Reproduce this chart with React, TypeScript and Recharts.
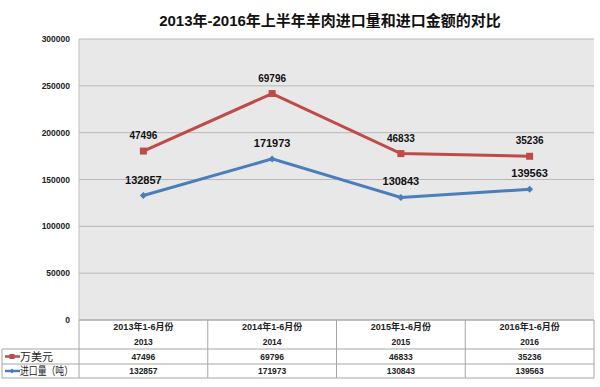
import React from 'react';
import {
  ComposedChart,
  Area,
  XAxis,
  YAxis,
  CartesianGrid,
  LabelList,
} from 'recharts';

const periods = ['2013年1-6月份', '2014年1-6月份', '2015年1-6月份', '2016年1-6月份'];
const years = ['2013', '2014', '2015', '2016'];
const amount = [47496, 69796, 46833, 35236]; // 万美元
const volume = [132857, 171973, 130843, 139563]; // 进口量（吨）
const yTicks = [0, 50000, 100000, 150000, 200000, 250000, 300000];

const data = years.map((y, i) => ({
  year: y,
  period: periods[i],
  amount: amount[i],
  volume: volume[i],
}));

const W = 600;
const H = 387;
const LEFT = 79;
const RIGHT = 6;
const TOP = 39;
const AXIS_H = 67;
const COL_W = (W - LEFT - RIGHT) / years.length;
const RED = '#be4b48';
const BLUE = '#4a7ebb';
const BORDER = '#a6a6a6';
const FONT = '"Liberation Sans", "Noto Sans CJK SC", sans-serif';

// red square marker
function SquareDot({ cx, cy }: any) {
  if (cx == null || cy == null) return null;
  return <rect x={cx - 3.5} y={cy - 3.5} width={7} height={7} fill={RED} />;
}

// blue diamond marker
function DiamondDot({ cx, cy }: any) {
  if (cx == null || cy == null) return null;
  return (
    <path d={`M${cx},${cy - 3.5} L${cx + 3.5},${cy} L${cx},${cy + 3.5} L${cx - 3.5},${cy} Z`} fill={BLUE} />
  );
}

// data table underneath the chart, one column per category tick
function TableTick({ x, y, payload, index }: any) {
  const top = y;
  const r1 = top + 29;
  const r2 = top + 44;
  const r3 = top + 58;
  const l = x - COL_W / 2;
  const r = x + COL_W / 2;
  const i = index;
  const txt = { fontFamily: FONT, fontSize: 8.5, fontWeight: 700, fill: '#222', textAnchor: 'middle' as const };
  return (
    <g>
      <line x1={r} y1={top} x2={r} y2={r3} stroke={BORDER} />
      <line x1={l} y1={r1} x2={r} y2={r1} stroke={BORDER} />
      <line x1={l} y1={r2} x2={r} y2={r2} stroke={BORDER} />
      <line x1={l} y1={r3} x2={r} y2={r3} stroke={BORDER} />
      <text x={x} y={top + 10} {...txt} fontSize={9}>{data[i].period}</text>
      <text x={x} y={top + 25} {...txt}>{payload.value}</text>
      <text x={x} y={top + 40} {...txt}>{data[i].amount}</text>
      <text x={x} y={top + 54} {...txt}>{data[i].volume}</text>
      {i === 0 && (
        <g>
          <line x1={l} y1={top} x2={l} y2={r3} stroke={BORDER} />
          <line x1={2} y1={r1} x2={l} y2={r1} stroke={BORDER} />
          <line x1={2} y1={r2} x2={l} y2={r2} stroke={BORDER} />
          <line x1={2} y1={r3} x2={l} y2={r3} stroke={BORDER} />
          <line x1={2} y1={r1} x2={2} y2={r3} stroke={BORDER} />
          <line x1={5} y1={r1 + 7.5} x2={20} y2={r1 + 7.5} stroke={RED} strokeWidth={2.5} />
          <rect x={9.5} y={r1 + 5} width={5} height={5} fill={RED} />
          <text x={20} y={r1 + 11.5} fontFamily={FONT} fontSize={11} fill="#222">万美元</text>
          <line x1={5} y1={r2 + 7} x2={20} y2={r2 + 7} stroke={BLUE} strokeWidth={2.5} />
          <path d={`M12,${r2 + 4.5} L14.5,${r2 + 7} L12,${r2 + 9.5} L9.5,${r2 + 7} Z`} fill={BLUE} />
          <text x={20} y={r2 + 11} fontFamily={FONT} fontSize={11} fill="#222" textLength={53} lengthAdjust="spacingAndGlyphs">
            进口量（吨）
          </text>
        </g>
      )}
    </g>
  );
}

export default function App() {
  return (
    <div style={{ position: 'absolute', left: 0, top: 0, width: W, height: H, background: '#fff' }}>
      <div
        style={{
          position: 'absolute',
          top: 9,
          left: 0,
          width: W,
          paddingLeft: 60,
          boxSizing: 'border-box',
          textAlign: 'center',
          fontFamily: FONT,
          fontSize: 15,
          fontWeight: 700,
          color: '#111',
        }}
      >
        2013年-2016年上半年羊肉进口量和进口金额的对比
      </div>
      <ComposedChart width={W} height={H} data={data} margin={{ top: TOP, right: RIGHT, left: 0, bottom: 0 }}>
        <CartesianGrid fill="#e8e8e8" stroke="#b8b8b8" vertical={false} />
        <XAxis
          dataKey="year"
          height={AXIS_H}
          padding={{ left: COL_W / 2, right: COL_W / 2 }}
          axisLine={{ stroke: BORDER }}
          tickLine={false}
          tickSize={0}
          tickMargin={0}
          interval={0}
          tick={<TableTick />}
        />
        <YAxis
          width={LEFT}
          domain={[0, 300000]}
          ticks={yTicks}
          axisLine={{ stroke: '#c0c0c0' }}
          tickLine={false}
          tickSize={0}
          tickMargin={9}
          tick={{ fontFamily: FONT, fontSize: 8.5, fontWeight: 700, fill: '#222' }}
        />
        <Area
          type="linear"
          dataKey="volume"
          stackId="s"
          stroke={BLUE}
          strokeWidth={3}
          fill="none"
          fillOpacity={0}
          dot={<DiamondDot />}
          activeDot={false}
          isAnimationActive={false}
        >
          <LabelList dataKey="volume" position="top" offset={12} fontFamily={FONT} fontSize={11} fontWeight={700} fill="#111" />
        </Area>
        <Area
          type="linear"
          dataKey="amount"
          stackId="s"
          stroke={RED}
          strokeWidth={3}
          fill="none"
          fillOpacity={0}
          dot={<SquareDot />}
          activeDot={false}
          isAnimationActive={false}
        >
          <LabelList dataKey="amount" position="top" offset={12} fontFamily={FONT} fontSize={10} fontWeight={700} fill="#111" />
        </Area>
      </ComposedChart>
    </div>
  );
}
